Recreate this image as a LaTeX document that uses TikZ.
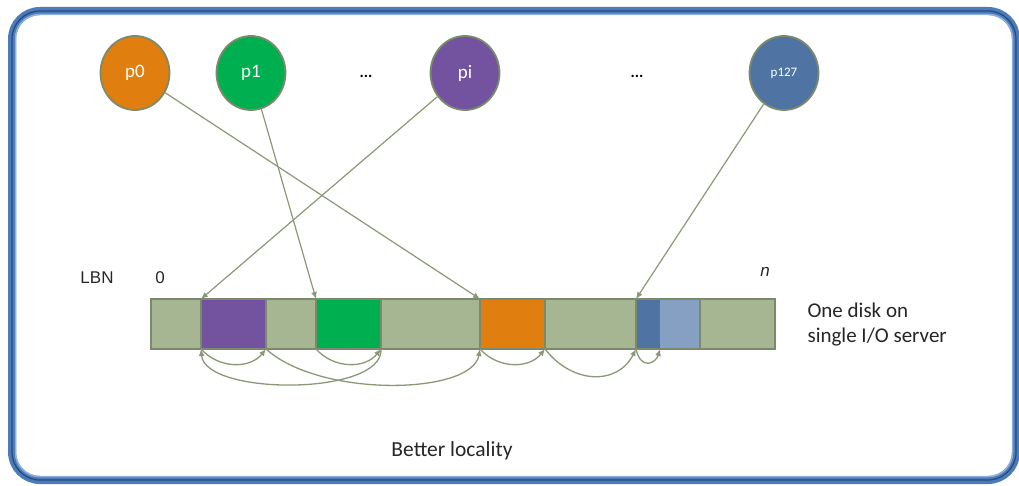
\documentclass[tikz,border=0pt]{standalone}
\usepackage{fontspec}
\setmainfont{Carlito}
\newfontfamily\arialf{Liberation Sans}
\usetikzlibrary{shapes.geometric,arrows.meta}

\definecolor{framebl}{HTML}{4B7BBB}
\definecolor{framedk}{HTML}{254A78}
\definecolor{framelt}{HTML}{8FB0DA}
\definecolor{barfill}{HTML}{A6B592}
\definecolor{barline}{HTML}{7C8A6C}
\definecolor{linkc}{HTML}{8A9878}
\definecolor{cOrange}{HTML}{E07E10}
\definecolor{cGreen}{HTML}{00B050}
\definecolor{cPurple}{HTML}{7353A0}
\definecolor{cBlue}{HTML}{4F73A3}
\definecolor{cLBlue}{HTML}{85A0C2}

\tikzset{
  proc/.style={ellipse, draw=barline, line width=1.8pt, minimum width=69pt,
    minimum height=74pt, inner sep=0pt, text=white, font=\fontsize{19}{19}\selectfont},
  seg/.style={rectangle, inner sep=0pt, outer sep=0pt, minimum height=50pt},
  link/.style={draw=linkc, line width=1.2pt, -{Latex[length=7pt,width=6pt]}},
  flow/.style={draw=linkc, line width=1.3pt, -{Latex[length=7pt,width=6pt]}},
  lbl/.style={font=\arialf\fontsize{17}{17}\selectfont, text=black!85},
  note/.style={font=\fontsize{21}{25}\selectfont, text=black!85, align=left},
}

\begin{document}
\begin{tikzpicture}[x=1pt,y=-1pt]
\useasboundingbox (0,0) rectangle (1019,486);

% small shaded bump above the frame
\fill[gray!35] (515,0) arc[start angle=180, end angle=360, x radius=10, y radius=5] -- cycle;

% outer frame
\draw[framebl, line width=8pt, rounded corners=28pt] (12,11) rectangle (1016,480);
\draw[framelt, line width=1.5pt, rounded corners=24pt] (15.5,14.5) rectangle (1012.5,476.5);
\draw[framedk, line width=1.2pt, rounded corners=28pt] (12,11) rectangle (1016,480);

% processes
\node[proc, fill=cOrange] (p0) at (135,73) {p0};
\node[proc, fill=cGreen] (p1) at (251,73) {p1};
\node[proc, fill=cPurple] (pi) at (465,73) {pi};
\node[proc, fill=cBlue, font=\fontsize{13}{13}\selectfont] (p127) at (784,73) {p127};
\node[font=\bfseries\fontsize{16}{16}\selectfont] (dots1) at (366,76) {...};
\node[font=\bfseries\fontsize{16}{16}\selectfont] (dots2) at (637,76) {...};

% disk blocks
\node[seg, fill=barfill, minimum width=50pt] (g1) at (176,324) {};
\node[seg, fill=cPurple, minimum width=65pt] (purple) at (233.5,324) {};
\node[seg, fill=barfill, minimum width=50pt] (g2) at (291,324) {};
\node[seg, fill=cGreen, minimum width=65pt] (green) at (348.5,324) {};
\node[seg, fill=barfill, minimum width=99pt] (g3) at (430.5,324) {};
\node[seg, fill=cOrange, minimum width=65pt] (orange) at (512.5,324) {};
\node[seg, fill=barfill, minimum width=91pt] (g4) at (590.5,324) {};
\node[seg, fill=cBlue, minimum width=24pt] (dblue) at (648,324) {};
\node[seg, fill=cLBlue, minimum width=40pt] (lblue) at (680,324) {};
\node[seg, fill=barfill, minimum width=75pt] (g5) at (737.5,324) {};

% block outlines
\draw[barline, line width=2.4pt] (g1.north west) rectangle (g5.south east);
\foreach \b in {purple, g2, green, g3, orange, g4, dblue, g5}
  \draw[barline, line width=2.4pt] (\b.north west) -- (\b.south west);

% labels
\node[lbl] (lbn) at (97,278) {LBN};
\node[lbl] (zero) at (160,278) {0};
\node[lbl, font=\arialf\itshape\fontsize{17}{17}\selectfont] (nlbl) at (765,272) {n};
\node[note, anchor=west] (disk) at (804,325) {One disk on\\single I/O server};
\node[font=\fontsize{21.5}{21.5}\selectfont, text=black!85] (better) at (452,451) {Better locality};

% requests from processes to blocks
\draw[link] (p0) -- (orange.north west);
\draw[link] (p1) -- (green.north west);
\draw[link] (pi) -- (purple.north west);
\draw[link] (p127) -- (dblue.north west);

% access order beneath the disk
\draw[flow] (purple.south west) .. controls +(18,20) and +(-16,20) .. (purple.south east);
\draw[flow] (green.south west) .. controls +(18,20) and +(-16,20) .. (green.south east);
\draw[flow] (orange.south west) .. controls +(18,20) and +(-16,20) .. (orange.south east);
\draw[flow] (orange.south east) .. controls +(28,36) and +(-18,36) .. (dblue.south west);
\draw[flow] (dblue.south west) .. controls +(5,22) and +(-4,14) .. (dblue.south east);
\draw[flow] (purple.south east) .. controls +(54,49) and +(-8,46) .. (orange.south west);
\draw[flow] (green.south east) .. controls +(3,47) and +(4,47) .. (purple.south west);
\end{tikzpicture}
\end{document}
